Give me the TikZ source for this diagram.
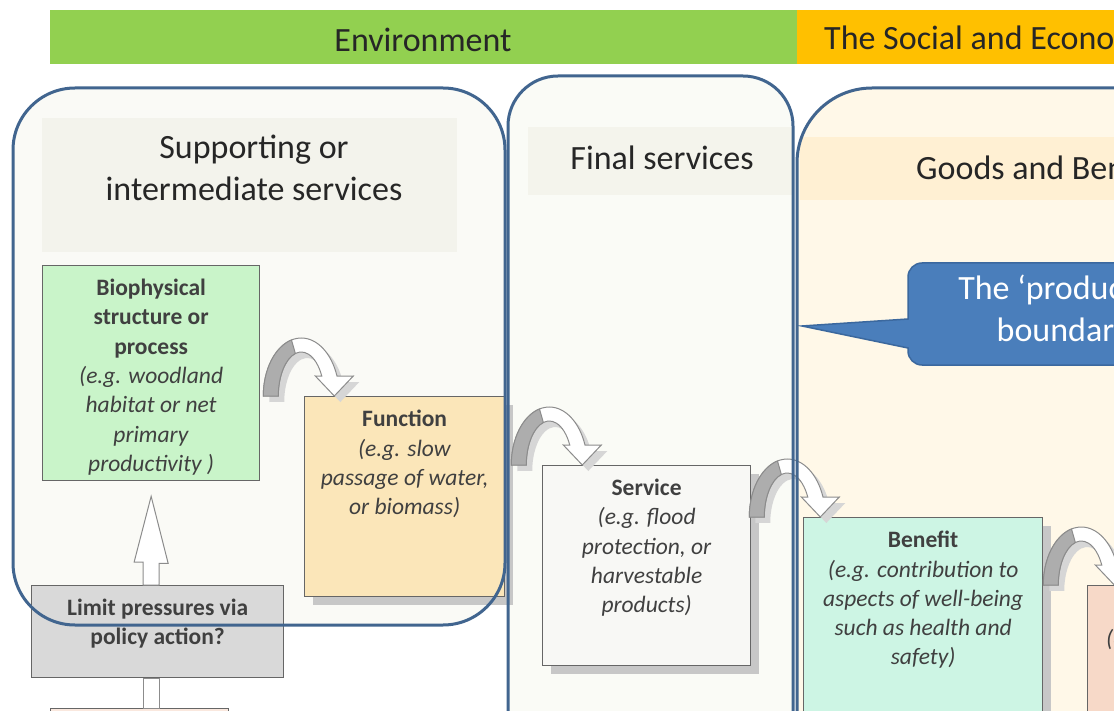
\documentclass[tikz,border=0pt]{standalone}
\usepackage{fontspec}
\setmainfont{Carlito}
\usetikzlibrary{calc,positioning,shadows}

\definecolor{envgreen}{HTML}{92D050}
\definecolor{socorange}{HTML}{FFC000}
\definecolor{frameblue}{HTML}{41658F}
\definecolor{calloutblue}{HTML}{4A7EBB}
\definecolor{calloutedge}{HTML}{3B689E}
\definecolor{biogreen}{HTML}{C9F4C9}
\definecolor{functan}{HTML}{FBE6B9}
\definecolor{servwhite}{HTML}{F8F8F5}
\definecolor{benmint}{HTML}{CDF5E4}
\definecolor{valpink}{HTML}{F7D9C8}
\definecolor{limitgrey}{HTML}{D9D9D9}
\definecolor{leftfill}{HTML}{FAFAF6}
\definecolor{leftpanel}{HTML}{F3F3EC}
\definecolor{midfill}{HTML}{FAFBF6}
\definecolor{midpanel}{HTML}{F4F4EC}
\definecolor{rightfill}{HTML}{FFF8E8}
\definecolor{rightpanel}{HTML}{FFF0D3}

% outline of the bent block arrow, foot centre at the origin
\newcommand\bendpath{(-38,0) arc[start angle=180,end angle=340,x radius=38,y radius=58]
  -- (52,-20) -- (33,0) -- (14,-20) -- (20.5,-19.8)
  arc[start angle=333.3,end angle=180,x radius=23,y radius=44] -- cycle}

\begin{document}
\begin{tikzpicture}[x=1pt,y=-1pt,
    title/.style={font=\fontsize{34}{42}\selectfont, text=black!85, align=center, inner sep=0},
    boxtext/.style={font=\fontsize{23.5}{29.3}\selectfont, text=black!75, align=center, inner sep=0},
    box/.style={draw=black!60, line width=1.3pt, anchor=north west, inner sep=0},
    shadowbox/.style={box, drop shadow={shadow xshift=8pt, shadow yshift=-8pt, fill=black!22, opacity=1}},
    frame/.style={draw=frameblue, line width=3pt},
    blockarr/.style={fill=white, draw=black!45, line width=1pt},
    curvedarr/.pic={
        \fill[black!16, shift={(6,6)}] \bendpath;
        \draw[blockarr] \bendpath;
        \filldraw[draw=black!45, fill=black!32, line width=1pt] (-38,0)
            arc[start angle=180,end angle=255,x radius=38,y radius=58]
            -- ({23*cos(255)},{44*sin(255)})
            arc[start angle=255,end angle=180,x radius=23,y radius=44] -- cycle;
    }]
\useasboundingbox (0,0) rectangle (1114,711);
\clip (0,0) rectangle (1114,711);

% header bars
\fill[envgreen] (50,10) rectangle (797,64);
\fill[socorange] (797,10) rectangle (1200,64);
\node[title] (env) at (423,40) {Environment};
\node[title, anchor=west] (soc) at (824,40) {The Social and Economic System};

% the three groups
\fill[leftfill, rounded corners=62pt] (13,88) rectangle (505,625);
\fill[midfill, rounded corners=50pt] (508,76) rectangle (793,790);
\fill[rightfill, rounded corners=75pt] (797,88) rectangle (1200,790);
\fill[leftpanel] (42,118) rectangle (457,252);
\fill[midpanel] (528,127) rectangle (792,195);
\fill[rightpanel] (800,137) rectangle (1200,200);
\node[title] (supp) at (254,168) {Supporting or\\intermediate services};
\node[title] (final) at (662,158) {Final services};
\node[title, anchor=west] (goods) at (916,168) {Goods and Benefits};

% production boundary callout
\filldraw[fill=calloutblue, draw=calloutedge, line width=1.5pt] (802,326) -- (908,319)
    [rounded corners=14pt] -- (908,263) -- (1200,263) -- (1200,365) -- (908,365)
    [sharp corners] -- (908,348) -- cycle;
\node[title, text=white] (prodtxt) at (1068,311) {The ‘production\\boundary’};

% boxes
\node[box, fill=biogreen, minimum width=217pt, minimum height=215pt] (bio) at (42,265) {};
\node[shadowbox, fill=functan, minimum width=200pt, minimum height=200pt] (func) at (304,396) {};
\node[shadowbox, fill=servwhite, minimum width=208pt, minimum height=200pt] (serv) at (542,465) {};
\node[shadowbox, fill=benmint, minimum width=239pt, minimum height=300pt] (ben) at (803,517) {};
\node[shadowbox, fill=valpink, minimum width=220pt, minimum height=220pt] (value) at (1087,585) {};
\node[box, fill=limitgrey, minimum width=252pt, minimum height=92pt] (limit) at (31,585) {};
\node[box, fill=valpink!60, minimum width=178pt, minimum height=80pt] (drivers) at (50,708) {};

\node[boxtext, below=14pt of bio.north] (biotxt) {\textbf{Biophysical}\\\textbf{structure or}\\\textbf{process}\\
    \textit{(e.g. woodland}\\\textit{habitat or net}\\\textit{primary}\\\textit{productivity )}};
\node[boxtext, below=14pt of func.north] (functxt) {\textbf{Function}\\\textit{(e.g. slow}\\
    \textit{passage of water,}\\\textit{or biomass)}};
\node[boxtext, below=14pt of serv.north] (servtxt) {\textbf{Service}\\\textit{(e.g. flood}\\
    \textit{protection, or}\\\textit{harvestable}\\\textit{products)}};
\node[boxtext, below=14pt of ben.north] (bentxt) {\textbf{Benefit}\\\textit{(e.g. contribution to}\\
    \textit{aspects of well-being}\\\textit{such as health and}\\\textit{safety)}};
\node[boxtext, below=14pt of limit.north] (limittxt) {\textbf{Limit pressures via}\\\textbf{policy action?}};
\node[boxtext, anchor=west] (valtxt) at (1106,640) {\textit{(e.g.}};

% block arrows
\coordinate (uptip) at ($(bio.south)+(0,15)$);
\coordinate (upfoot) at (bio.south |- limit.north);
\draw[blockarr] (uptip) -- ++(17,67) -- ++(-9,0) -- ($(upfoot)+(8,0)$)
    -- ($(upfoot)+(-8,0)$) -- ++(0,-23) -- ++(-9,0) -- cycle;
\draw[blockarr] ($(bio.south |- limit.south)+(-8,0)$) rectangle ($(bio.south |- drivers.north)+(8,0)$);

\pic at ($(bio.east |- func.north)+(41,0)$) {curvedarr};
\pic at ($(func.east |- serv.north)+(44,0)$) {curvedarr};
\pic at ($(serv.east |- ben.north)+(36,0)$) {curvedarr};
\pic at ($(ben.east |- value.north)+(38,0)$) {curvedarr};

% group outlines on top
\draw[frame, rounded corners=62pt] (13,88) rectangle (505,625);
\draw[frame, rounded corners=50pt] (508,76) rectangle (793,790);
\draw[frame, rounded corners=75pt] (797,88) rectangle (1200,790);
\end{tikzpicture}
\end{document}
